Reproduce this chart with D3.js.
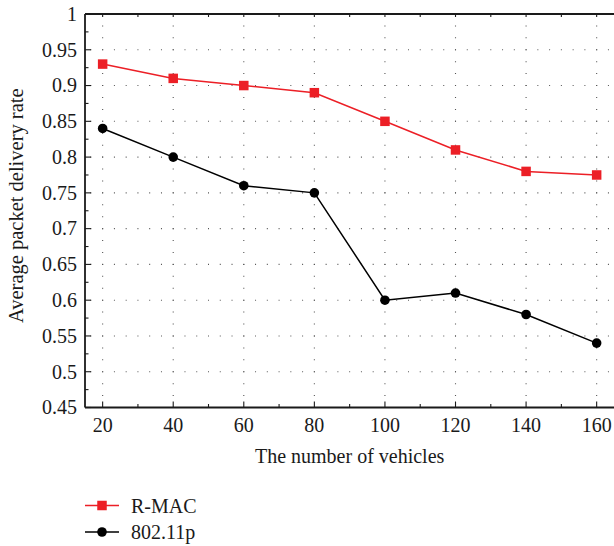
<!DOCTYPE html>
<html>
<head>
<meta charset="utf-8">
<script src="https://cdn.jsdelivr.net/npm/d3@7"></script>
<style>
html,body{margin:0;padding:0;background:#fff;}
svg{display:block;}
</style>
</head>
<body>
<svg id="chart" width="614" height="546"></svg>
<script>
// ---- data ----
const vehicles = [20, 40, 60, 80, 100, 120, 140, 160];
const rmac = [0.93, 0.91, 0.90, 0.89, 0.85, 0.81, 0.78, 0.775];
const p80211 = [0.84, 0.80, 0.76, 0.75, 0.60, 0.61, 0.58, 0.54];
const seriesNames = ["R-MAC", "802.11p"];
const xTicks = [20, 40, 60, 80, 100, 120, 140, 160];
const xMinorTicks = [30, 50, 70, 90, 110, 130, 150];
const yTicks = [0.45, 0.5, 0.55, 0.6, 0.65, 0.7, 0.75, 0.8, 0.85, 0.9, 0.95, 1];
const yMinorTicks = [0.475, 0.525, 0.575, 0.625, 0.675, 0.725, 0.775, 0.825, 0.875, 0.925, 0.975];
const xTitle = "The number of vehicles";
const yTitle = "Average packet delivery rate";

(function () {
const svg = d3.select("#chart")
  .style("font-family", "'Liberation Serif', 'DejaVu Serif', serif");
const pL = 85, pR = 614.3, pT = 14, pB = 407.5;
const x = d3.scaleLinear().domain([15, 165]).range([pL, pR]);
const y = d3.scaleLinear().domain([0.45, 1]).range([pB, pT]);
const red = "#ec1f26";
const ink = "#1a1a1a";

// ---- grid (dotted) ----
const px = (x(40) - x(20)) / 6;
const py = (y(0.5) - y(0.55)) / 3;
const grid = svg.append("g").attr("stroke", "#555").attr("stroke-width", 1.1);
yTicks.filter(v => v > 0.45 && v < 1).forEach(v => {
  const off = ((x(20) - 0.5 - pL) % px);
  grid.append("line")
    .attr("x1", pL).attr("x2", 614).attr("y1", y(v)).attr("y2", y(v))
    .attr("stroke-dasharray", `1 ${px - 1}`)
    .attr("stroke-dashoffset", -off + px);
});
xTicks.forEach(v => {
  grid.append("line")
    .attr("x1", x(v)).attr("x2", x(v)).attr("y1", pB).attr("y2", pT)
    .attr("stroke-dasharray", `1 ${py - 1}`)
    .attr("stroke-dashoffset", 0.5);
});

// ---- axes ----
const ax = svg.append("g").attr("stroke", ink).attr("fill", "none");
ax.append("line").attr("x1", pL).attr("x2", 614).attr("y1", pB).attr("y2", pB).attr("stroke-width", 1.8);
ax.append("line").attr("x1", pL).attr("x2", 614).attr("y1", pT).attr("y2", pT).attr("stroke-width", 1.8);
ax.append("line").attr("x1", pL).attr("x2", pL).attr("y1", pT).attr("y2", pB).attr("stroke-width", 1.8);

xTicks.forEach(v => {
  ax.append("line").attr("x1", x(v)).attr("x2", x(v)).attr("y1", pB).attr("y2", pB - 6).attr("stroke-width", 1.1);
  ax.append("line").attr("x1", x(v)).attr("x2", x(v)).attr("y1", pT).attr("y2", pT + 3).attr("stroke-width", 1.1);
});
xMinorTicks.forEach(v => {
  ax.append("line").attr("x1", x(v)).attr("x2", x(v)).attr("y1", pB).attr("y2", pB - 3.5).attr("stroke-width", 1.1);
  ax.append("line").attr("x1", x(v)).attr("x2", x(v)).attr("y1", pT).attr("y2", pT + 3).attr("stroke-width", 1.1);
});
yTicks.forEach(v => {
  ax.append("line").attr("x1", pL).attr("x2", pL + 6).attr("y1", y(v)).attr("y2", y(v)).attr("stroke-width", 1.1);
});
yMinorTicks.forEach(v => {
  ax.append("line").attr("x1", pL).attr("x2", pL + 3.5).attr("y1", y(v)).attr("y2", y(v)).attr("stroke-width", 1.1);
});

// tick labels
svg.append("g").selectAll("text").data(xTicks).join("text")
  .attr("x", d => x(d)).attr("y", 432).attr("fill", ink)
  .attr("text-anchor", "middle").attr("font-size", 20)
  .text(d => String(d));
svg.append("g").selectAll("text").data(yTicks).join("text")
  .attr("x", 77).attr("y", d => y(d)).attr("dy", "0.34em").attr("fill", ink)
  .attr("text-anchor", "end").attr("font-size", 20)
  .text(d => String(+d.toFixed(3)));

// titles
svg.append("text").attr("x", (pL + pR) / 2).attr("y", 463).attr("fill", ink)
  .attr("text-anchor", "middle").attr("font-size", 20).text(xTitle);
svg.append("text").attr("transform", `translate(23,${(pT + pB) / 2 - 5}) rotate(-90)`)
  .attr("fill", ink).attr("text-anchor", "middle").attr("font-size", 20.5).text(yTitle);

// ---- series ----
const line = d3.line().x(d => x(d[0])).y(d => y(d[1]));
const dRmac = vehicles.map((v, i) => [v, rmac[i]]);
const dP = vehicles.map((v, i) => [v, p80211[i]]);

svg.append("path").datum(dRmac).attr("d", line)
  .attr("fill", "none").attr("stroke", red).attr("stroke-width", 1.5);
svg.append("path").datum(dP).attr("d", line)
  .attr("fill", "none").attr("stroke", "#000").attr("stroke-width", 1.5);

const sq = 9.5;
svg.append("g").selectAll("rect").data(dRmac).join("rect")
  .attr("x", d => x(d[0]) - sq / 2).attr("y", d => y(d[1]) - sq / 2)
  .attr("width", sq).attr("height", sq).attr("fill", red);
svg.append("g").selectAll("circle").data(dP).join("circle")
  .attr("cx", d => x(d[0])).attr("cy", d => y(d[1])).attr("r", 4.8).attr("fill", "#000");

// ---- legend ----
const lg = svg.append("g");
const legY = [505.5, 532];
lg.append("line").attr("x1", 85).attr("x2", 119).attr("y1", legY[0]).attr("y2", legY[0]).attr("stroke", red).attr("stroke-width", 1.5);
lg.append("rect").attr("x", 102 - sq / 2).attr("y", legY[0] - sq / 2).attr("width", sq).attr("height", sq).attr("fill", red);
lg.append("line").attr("x1", 85).attr("x2", 119).attr("y1", legY[1]).attr("y2", legY[1]).attr("stroke", "#000").attr("stroke-width", 1.5);
lg.append("circle").attr("cx", 102).attr("cy", legY[1]).attr("r", 4.8).attr("fill", "#000");
lg.selectAll("text").data(seriesNames).join("text")
  .attr("x", 131).attr("y", (d, i) => legY[i]).attr("dy", "0.35em").attr("fill", ink)
  .attr("font-size", 20).text(d => d);
})();
</script>
</body>
</html>
